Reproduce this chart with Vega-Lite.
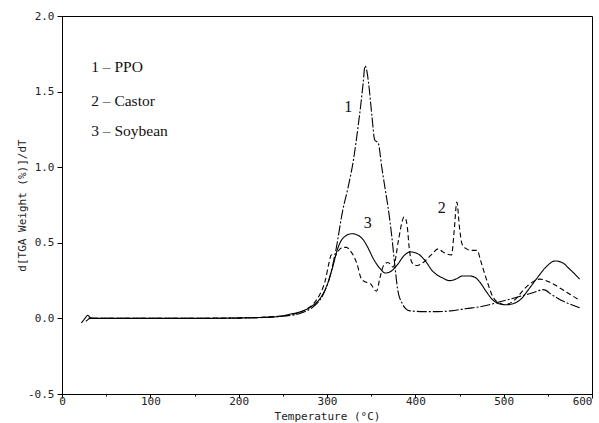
{
  "$schema": "https://vega.github.io/schema/vega-lite/v6.json",
  "autosize": {"type": "none"},
  "width": 530,
  "height": 378,
  "padding": {"left": 62, "top": 16, "right": 7, "bottom": 29},
  "background": "white",
  "config": {
    "view": {"stroke": "black", "strokeWidth": 1},
    "axis": {
      "domainColor": "black",
      "tickColor": "black",
      "labelColor": "#222",
      "titleColor": "#222",
      "labelFont": "DejaVu Sans Mono",
      "titleFont": "DejaVu Sans Mono",
      "labelFontSize": 11,
      "titleFontSize": 11,
      "titleFontWeight": "normal",
      "grid": false
    }
  },
  "datasets": {
    "curves": [
      {"s": "PPO", "T": 30, "v": 0}, {"s": "PPO", "T": 60, "v": 0}, {"s": "PPO", "T": 100, "v": 0}, {"s": "PPO", "T": 150, "v": 0}, {"s": "PPO", "T": 200, "v": 0.002}, {"s": "PPO", "T": 240, "v": 0.01}, {"s": "PPO", "T": 260, "v": 0.02}, {"s": "PPO", "T": 273, "v": 0.04}, {"s": "PPO", "T": 285, "v": 0.08}, {"s": "PPO", "T": 295, "v": 0.15}, {"s": "PPO", "T": 303, "v": 0.27}, {"s": "PPO", "T": 310, "v": 0.45}, {"s": "PPO", "T": 318, "v": 0.72}, {"s": "PPO", "T": 324, "v": 0.87}, {"s": "PPO", "T": 330, "v": 1.05}, {"s": "PPO", "T": 335, "v": 1.26}, {"s": "PPO", "T": 338, "v": 1.4}, {"s": "PPO", "T": 341, "v": 1.56}, {"s": "PPO", "T": 343, "v": 1.67}, {"s": "PPO", "T": 345, "v": 1.64}, {"s": "PPO", "T": 347, "v": 1.56}, {"s": "PPO", "T": 351, "v": 1.33}, {"s": "PPO", "T": 354, "v": 1.18}, {"s": "PPO", "T": 358, "v": 1.16}, {"s": "PPO", "T": 362, "v": 1.0}, {"s": "PPO", "T": 366, "v": 0.85}, {"s": "PPO", "T": 369, "v": 0.74}, {"s": "PPO", "T": 373, "v": 0.56}, {"s": "PPO", "T": 377, "v": 0.34}, {"s": "PPO", "T": 380, "v": 0.19}, {"s": "PPO", "T": 385, "v": 0.1}, {"s": "PPO", "T": 389, "v": 0.065}, {"s": "PPO", "T": 394, "v": 0.05}, {"s": "PPO", "T": 410, "v": 0.045}, {"s": "PPO", "T": 425, "v": 0.045}, {"s": "PPO", "T": 440, "v": 0.05}, {"s": "PPO", "T": 458, "v": 0.065}, {"s": "PPO", "T": 476, "v": 0.08}, {"s": "PPO", "T": 496, "v": 0.11}, {"s": "PPO", "T": 515, "v": 0.14}, {"s": "PPO", "T": 533, "v": 0.17}, {"s": "PPO", "T": 545, "v": 0.19}, {"s": "PPO", "T": 555, "v": 0.155}, {"s": "PPO", "T": 565, "v": 0.12}, {"s": "PPO", "T": 575, "v": 0.095}, {"s": "PPO", "T": 586, "v": 0.07},
      {"s": "Soybean", "T": 22, "v": -0.03}, {"s": "Soybean", "T": 26, "v": 0.0}, {"s": "Soybean", "T": 29, "v": 0.02}, {"s": "Soybean", "T": 32, "v": 0.006}, {"s": "Soybean", "T": 37, "v": 0}, {"s": "Soybean", "T": 100, "v": 0}, {"s": "Soybean", "T": 150, "v": 0}, {"s": "Soybean", "T": 200, "v": 0.003}, {"s": "Soybean", "T": 240, "v": 0.01}, {"s": "Soybean", "T": 260, "v": 0.03}, {"s": "Soybean", "T": 273, "v": 0.05}, {"s": "Soybean", "T": 285, "v": 0.09}, {"s": "Soybean", "T": 292, "v": 0.13}, {"s": "Soybean", "T": 300, "v": 0.22}, {"s": "Soybean", "T": 306, "v": 0.33}, {"s": "Soybean", "T": 312, "v": 0.46}, {"s": "Soybean", "T": 318, "v": 0.53}, {"s": "Soybean", "T": 328, "v": 0.56}, {"s": "Soybean", "T": 335, "v": 0.55}, {"s": "Soybean", "T": 341, "v": 0.52}, {"s": "Soybean", "T": 347, "v": 0.46}, {"s": "Soybean", "T": 352, "v": 0.4}, {"s": "Soybean", "T": 360, "v": 0.33}, {"s": "Soybean", "T": 366, "v": 0.3}, {"s": "Soybean", "T": 372, "v": 0.31}, {"s": "Soybean", "T": 379, "v": 0.35}, {"s": "Soybean", "T": 388, "v": 0.42}, {"s": "Soybean", "T": 394, "v": 0.44}, {"s": "Soybean", "T": 402, "v": 0.43}, {"s": "Soybean", "T": 410, "v": 0.39}, {"s": "Soybean", "T": 420, "v": 0.31}, {"s": "Soybean", "T": 430, "v": 0.27}, {"s": "Soybean", "T": 439, "v": 0.25}, {"s": "Soybean", "T": 446, "v": 0.26}, {"s": "Soybean", "T": 453, "v": 0.28}, {"s": "Soybean", "T": 462, "v": 0.28}, {"s": "Soybean", "T": 468, "v": 0.27}, {"s": "Soybean", "T": 473, "v": 0.24}, {"s": "Soybean", "T": 480, "v": 0.18}, {"s": "Soybean", "T": 488, "v": 0.12}, {"s": "Soybean", "T": 496, "v": 0.095}, {"s": "Soybean", "T": 503, "v": 0.09}, {"s": "Soybean", "T": 512, "v": 0.1}, {"s": "Soybean", "T": 520, "v": 0.13}, {"s": "Soybean", "T": 528, "v": 0.19}, {"s": "Soybean", "T": 537, "v": 0.26}, {"s": "Soybean", "T": 548, "v": 0.34}, {"s": "Soybean", "T": 558, "v": 0.38}, {"s": "Soybean", "T": 566, "v": 0.37}, {"s": "Soybean", "T": 574, "v": 0.33}, {"s": "Soybean", "T": 586, "v": 0.26},
      {"s": "Castor", "T": 27, "v": -0.02}, {"s": "Castor", "T": 32, "v": 0}, {"s": "Castor", "T": 100, "v": 0}, {"s": "Castor", "T": 200, "v": 0.003}, {"s": "Castor", "T": 240, "v": 0.012}, {"s": "Castor", "T": 260, "v": 0.025}, {"s": "Castor", "T": 273, "v": 0.05}, {"s": "Castor", "T": 285, "v": 0.1}, {"s": "Castor", "T": 292, "v": 0.16}, {"s": "Castor", "T": 298, "v": 0.25}, {"s": "Castor", "T": 302, "v": 0.36}, {"s": "Castor", "T": 305, "v": 0.42}, {"s": "Castor", "T": 308, "v": 0.4}, {"s": "Castor", "T": 312, "v": 0.44}, {"s": "Castor", "T": 318, "v": 0.47}, {"s": "Castor", "T": 322, "v": 0.47}, {"s": "Castor", "T": 326, "v": 0.45}, {"s": "Castor", "T": 334, "v": 0.36}, {"s": "Castor", "T": 339, "v": 0.26}, {"s": "Castor", "T": 344, "v": 0.24}, {"s": "Castor", "T": 349, "v": 0.23}, {"s": "Castor", "T": 356, "v": 0.18}, {"s": "Castor", "T": 360, "v": 0.27}, {"s": "Castor", "T": 364, "v": 0.35}, {"s": "Castor", "T": 369, "v": 0.37}, {"s": "Castor", "T": 375, "v": 0.34}, {"s": "Castor", "T": 381, "v": 0.52}, {"s": "Castor", "T": 385, "v": 0.64}, {"s": "Castor", "T": 387, "v": 0.67}, {"s": "Castor", "T": 389, "v": 0.66}, {"s": "Castor", "T": 391, "v": 0.6}, {"s": "Castor", "T": 393, "v": 0.47}, {"s": "Castor", "T": 396, "v": 0.37}, {"s": "Castor", "T": 402, "v": 0.35}, {"s": "Castor", "T": 409, "v": 0.37}, {"s": "Castor", "T": 418, "v": 0.42}, {"s": "Castor", "T": 426, "v": 0.46}, {"s": "Castor", "T": 431, "v": 0.44}, {"s": "Castor", "T": 441, "v": 0.42}, {"s": "Castor", "T": 444, "v": 0.58}, {"s": "Castor", "T": 447, "v": 0.77}, {"s": "Castor", "T": 450, "v": 0.6}, {"s": "Castor", "T": 453, "v": 0.49}, {"s": "Castor", "T": 458, "v": 0.46}, {"s": "Castor", "T": 462, "v": 0.45}, {"s": "Castor", "T": 470, "v": 0.45}, {"s": "Castor", "T": 474, "v": 0.38}, {"s": "Castor", "T": 481, "v": 0.25}, {"s": "Castor", "T": 488, "v": 0.14}, {"s": "Castor", "T": 496, "v": 0.1}, {"s": "Castor", "T": 502, "v": 0.09}, {"s": "Castor", "T": 512, "v": 0.12}, {"s": "Castor", "T": 526, "v": 0.21}, {"s": "Castor", "T": 541, "v": 0.26}, {"s": "Castor", "T": 552, "v": 0.24}, {"s": "Castor", "T": 564, "v": 0.2}, {"s": "Castor", "T": 575, "v": 0.16}, {"s": "Castor", "T": 586, "v": 0.12}
    ],
    "labels": [
      {"t": "1 – PPO", "T": 33, "v": 1.66, "kind": "legend"},
      {"t": "2 – Castor", "T": 33, "v": 1.44, "kind": "legend"},
      {"t": "3 – Soybean", "T": 33, "v": 1.24, "kind": "legend"},
      {"t": "1", "T": 324, "v": 1.4, "kind": "curve"},
      {"t": "2", "T": 430, "v": 0.73, "kind": "curve"},
      {"t": "3", "T": 346, "v": 0.63, "kind": "curve"}
    ]
  },
  "layer": [
    {
      "data": {"name": "curves"},
      "mark": {"type": "line", "interpolate": "monotone", "color": "black", "strokeWidth": 1.1, "clip": true},
      "encoding": {
        "x": {
          "field": "T", "type": "quantitative",
          "scale": {"domain": [0, 600], "nice": false, "zero": false},
          "axis": {
            "title": "Temperature (°C)",
            "values": [0, 50, 100, 150, 200, 250, 300, 350, 400, 450, 500, 550, 600],
            "labelExpr": "datum.value % 100 === 0 ? datum.label : ''",
            "tickSize": {"condition": {"test": "datum.value % 100 === 0", "value": 4}, "value": 2},
            "labelAlign": {"condition": {"test": "datum.value === 600", "value": "right"}, "value": "center"},
            "labelPadding": -3,
            "titlePadding": 4,
            "labelFlush": false
          }
        },
        "y": {
          "field": "v", "type": "quantitative",
          "scale": {"domain": [-0.5, 2.0], "nice": false, "zero": false},
          "axis": {
            "title": "d[TGA Weight (%)]/dT",
            "values": [-0.5, -0.25, 0, 0.25, 0.5, 0.75, 1.0, 1.25, 1.5, 1.75, 2.0],
            "labelExpr": "abs(datum.value * 2 - round(datum.value * 2)) < 0.01 ? replace(format(datum.value, '.1f'), '−', '-') : ''",
            "tickSize": {"condition": {"test": "abs(datum.value * 2 - round(datum.value * 2)) < 0.01", "value": 5}, "value": 3},
            "labelPadding": 3,
            "titleX": -40,
            "titleBaseline": "middle",
            "labelFlush": false
          }
        },
        "detail": {"field": "s"},
        "strokeDash": {
          "field": "s", "type": "nominal", "legend": null,
          "scale": {"domain": ["PPO", "Castor", "Soybean"], "range": [[10, 2, 2, 2], [5, 3], [1, 0]]}
        }
      }
    },
    {
      "data": {"name": "labels"},
      "transform": [{"filter": "datum.kind === 'legend'"}],
      "mark": {"type": "text", "align": "left", "baseline": "middle", "font": "Liberation Serif", "fontSize": 15.5, "color": "#111"},
      "encoding": {
        "x": {"field": "T", "type": "quantitative"},
        "y": {"field": "v", "type": "quantitative"},
        "text": {"field": "t"}
      }
    },
    {
      "data": {"name": "labels"},
      "transform": [{"filter": "datum.kind === 'curve'"}],
      "mark": {"type": "text", "align": "center", "baseline": "middle", "font": "Liberation Serif", "fontSize": 16, "color": "#111"},
      "encoding": {
        "x": {"field": "T", "type": "quantitative"},
        "y": {"field": "v", "type": "quantitative"},
        "text": {"field": "t"}
      }
    }
  ]
}
